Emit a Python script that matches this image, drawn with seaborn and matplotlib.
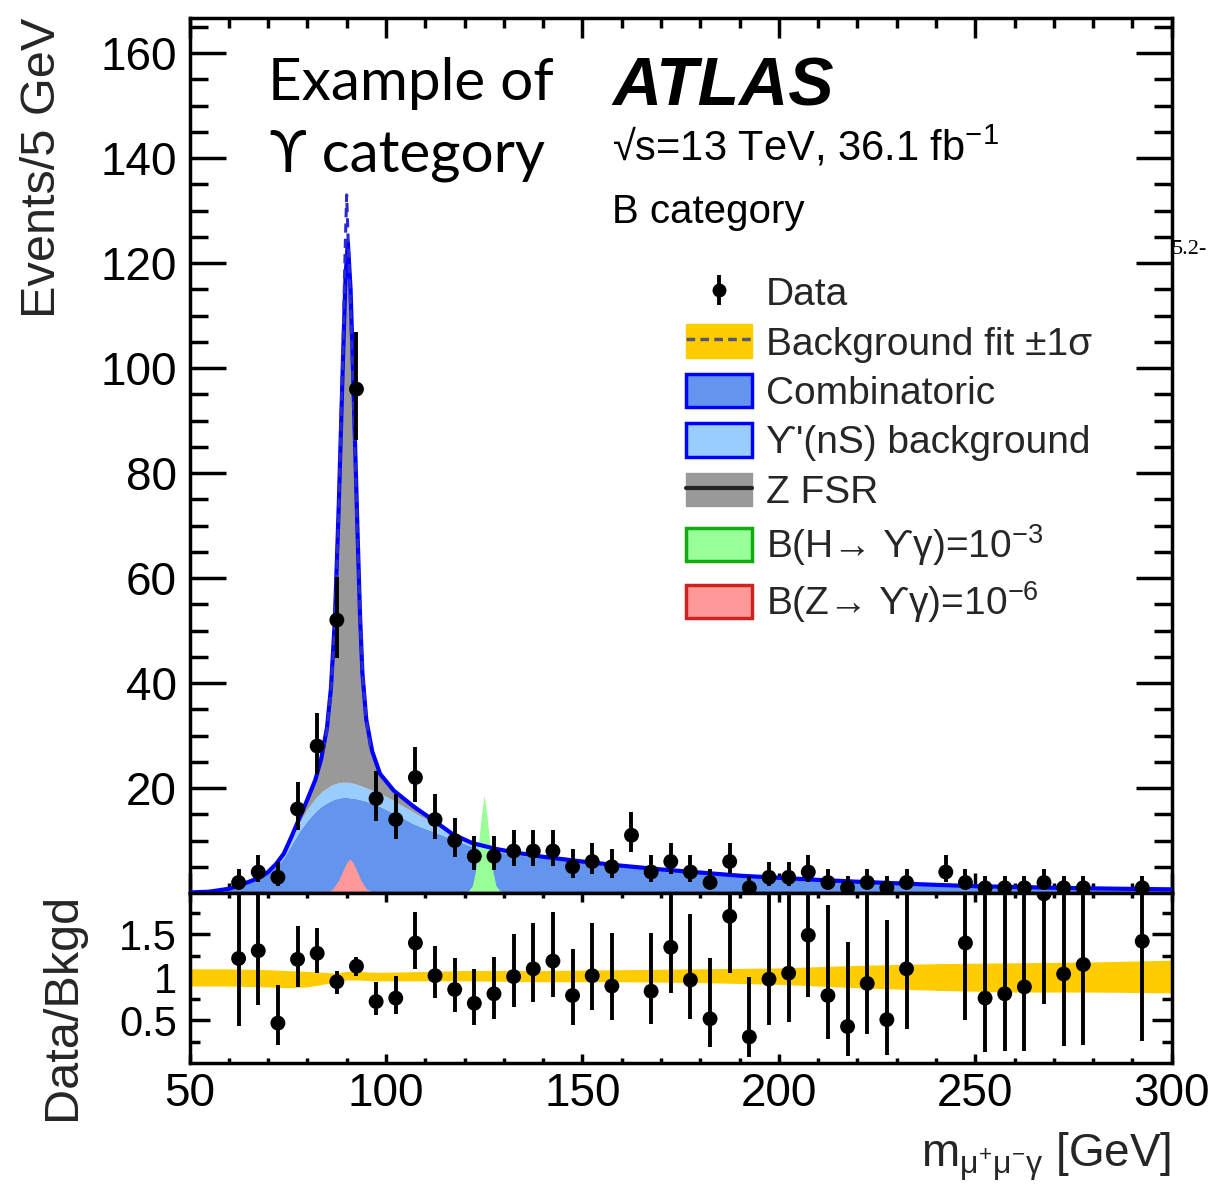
import numpy as np
import matplotlib
matplotlib.use("Agg")
import matplotlib.pyplot as plt
import seaborn as sns
import pandas as pd
from matplotlib.patches import Patch
from matplotlib.lines import Line2D
from matplotlib.ticker import MultipleLocator, FixedLocator

nan = float("nan")

# ---------------- data ----------------
bin_centers = [62.5, 67.5, 72.5, 77.5, 82.5, 87.5, 92.5, 97.5, 102.5, 107.5,
               112.5, 117.5, 122.5, 127.5, 132.5, 137.5, 142.5, 147.5, 152.5, 157.5,
               162.5, 167.5, 172.5, 177.5, 182.5, 187.5, 192.5, 197.5, 202.5, 207.5,
               212.5, 217.5, 222.5, 227.5, 232.5,
               242.5, 247.5, 252.5, 257.5, 262.5, 267.5, 272.5, 277.5, 292.5]
data_counts = [2, 4, 3, 16, 28, 52, 96, 18, 14, 22,
               14, 10, 7, 7, 8, 8, 8, 5, 6, 5,
               11, 4, 6, 4, 2, 6, 1, 3, 3, 4,
               2, 1, 2, 1, 2,
               4, 2, 1, 1, 1, 2, 1, 1, 1]
data_err_lo = [1.29, 1.91, 1.63, 3.96, 5.27, 7.18, 9.77, 4.20, 3.70, 4.65,
               3.70, 3.11, 2.58, 2.58, 2.77, 2.77, 2.77, 2.16, 2.38, 2.16,
               3.27, 1.91, 2.38, 1.91, 1.29, 2.38, 0.83, 1.63, 1.63, 1.91,
               1.29, 0.83, 1.29, 0.83, 1.29,
               1.91, 1.29, 0.83, 0.83, 0.83, 1.29, 0.83, 0.83, 0.83]
data_err_hi = [2.64, 3.16, 2.92, 5.08, 6.35, 8.25, 10.8, 5.32, 4.83, 5.76,
               4.83, 4.27, 3.77, 3.77, 3.95, 3.95, 3.95, 3.38, 3.58, 3.38,
               4.42, 3.16, 3.58, 3.16, 2.64, 3.58, 2.30, 2.92, 2.92, 3.16,
               2.64, 2.30, 2.64, 2.30, 2.64,
               3.16, 2.64, 2.30, 2.30, 2.30, 2.64, 2.30, 2.30, 2.30]

ratio_vals = [1.22, 1.31, 0.47, 1.21, 1.28, 0.95, 1.13, 0.72, 0.76, 1.40,
              1.02, 0.86, 0.70, 0.81, 1.01, 1.10, 1.19, 0.79, 1.02, 0.90,
              nan, 0.84, 1.35, 0.97, 0.52, 1.71, 0.31, 0.98, 1.05, 1.49,
              0.79, 0.43, 0.93, 0.51, 1.10,
              nan, 1.40, 0.76, 0.81, 0.89, 1.97, 1.04, 1.15, 1.42]
ratio_lo = [0.44, 0.68, 0.21, 0.89, 1.05, 0.81, 1.02, 0.56, 0.57, 1.10,
            0.76, 0.60, 0.45, 0.52, 0.66, 0.72, 0.77, 0.45, 0.62, 0.51,
            nan, 0.46, 0.82, 0.52, 0.19, 1.05, 0.08, 0.45, 0.48, 0.77,
            0.28, 0.09, 0.34, 0.10, 0.40,
            nan, 0.51, 0.13, 0.15, 0.15, 0.69, 0.20, 0.22, 0.26]
ratio_hi = [2.30, 2.40, 0.91, 1.60, 1.57, 1.08, 1.24, 0.95, 1.02, 1.76,
            1.36, 1.23, 1.10, 1.24, 1.50, 1.63, 1.76, 1.33, 1.63, 1.52,
            nan, 1.52, 2.30, 1.74, 1.22, 2.40, 1.00, 2.30, 2.30, 2.50,
            1.84, 1.41, 2.30, 1.67, 2.50,
            nan, 2.60, 2.40, 2.40, 2.50, 3.00, 2.80, 3.00, 3.00]

model_mass = [50, 55, 60, 63, 66, 68, 70, 72, 74, 76,
              78, 80, 82, 83.5, 85, 86, 87, 88, 89, 89.7,
              90.3, 91, 91.6, 92.2, 92.8, 93.4, 94, 95, 96.5, 98.5,
              102, 107, 112, 117, 122, 128, 133, 140, 150, 160,
              170, 180, 190, 200, 210, 220, 230, 240, 250, 260,
              270, 280, 290, 300]
model_total = [0.1, 0.25, 0.8, 1.5, 2.4, 3.0, 4.0, 5.5, 7.5, 10.8,
               14.3, 17.8, 21.5, 25.5, 31.5, 39.0, 52.0, 74.0, 100.0, 117.0,
               124.0, 115.0, 100.0, 84.0, 68.0, 53.0, 42.0, 33.0, 27.0, 22.7,
               19.5, 16.5, 13.9, 11.2, 9.5, 8.4, 7.7, 6.9, 6.0, 5.2,
               4.5, 3.9, 3.3, 2.9, 2.5, 2.15, 1.85, 1.55, 1.3, 1.15,
               1.0, 0.88, 0.78, 0.7]
model_upsilon_stack = [0.1, 0.25, 0.8, 1.5, 2.4, 3.0, 4.0, 5.4, 7.3, 10.4,
                       13.5, 16.0, 18.0, 19.2, 20.0, 20.5, 20.8, 21.0, 21.1, 21.1,
                       21.1, 21.0, 20.9, 20.8, 20.6, 20.5, 20.3, 20.0, 19.6, 19.0,
                       17.6, 15.4, 13.3, 11.0, 9.4, 8.3, 7.6, 6.85, 5.95, 5.15,
                       4.45, 3.85, 3.25, 2.85, 2.45, 2.1, 1.8, 1.5, 1.25, 1.1,
                       0.95, 0.84, 0.74, 0.66]
model_combinatoric = [0.1, 0.25, 0.8, 1.5, 2.3, 2.9, 3.8, 5.0, 6.7, 9.3,
                      11.8, 13.8, 15.5, 16.5, 17.2, 17.6, 17.9, 18.1, 18.2, 18.2,
                      18.2, 18.1, 18.1, 18.0, 17.9, 17.8, 17.7, 17.5, 17.1, 16.5,
                      15.2, 13.2, 11.7, 10.3, 8.8, 7.9, 7.3, 6.7, 5.85, 5.1,
                      4.4, 3.8, 3.2, 2.8, 2.4, 2.05, 1.75, 1.45, 1.2, 1.05,
                      0.9, 0.8, 0.7, 0.62]

fit_peak_mass = [84, 85, 86, 87, 88, 89, 89.6, 90.0, 90.4, 91, 91.6, 92.2, 92.8, 93.4, 94, 95, 96]
fit_peak_vals = [27, 31, 38.5, 51, 73, 102, 122, 133, 124, 111, 97, 82, 67, 53, 42, 33, 28]

sig_h_mass = [120, 121, 122, 122.75, 123.5, 124.25, 125, 125.75, 126.5, 127.25, 128, 129, 130]
sig_h_vals = [0.1, 0.4, 1.4, 4.0, 9.0, 14.5, 18.7, 14.5, 9.0, 4.0, 1.4, 0.4, 0.1]
sig_z_mass = [85, 86.5, 88, 89, 90, 90.8, 91.6, 92.6, 93.6, 95, 97]
sig_z_vals = [0.1, 0.8, 2.5, 4.2, 5.8, 6.5, 5.8, 4.2, 2.5, 0.8, 0.1]

band_mass = [50, 60, 70, 75, 80, 84, 87, 90, 93, 97, 100, 110, 120, 140, 160, 180, 200, 220, 240, 260, 280, 300]
band_hi = [1.10, 1.10, 1.09, 1.08, 1.07, 1.06, 1.05, 1.07, 1.07, 1.06, 1.06, 1.07, 1.08, 1.08, 1.09, 1.10, 1.11, 1.14, 1.16, 1.17, 1.18, 1.20]
band_lo = [0.90, 0.90, 0.89, 0.88, 0.89, 0.92, 0.95, 0.97, 0.97, 0.96, 0.96, 0.96, 0.96, 0.95, 0.95, 0.94, 0.92, 0.88, 0.85, 0.83, 0.83, 0.82]

x_ticks = [50, 100, 150, 200, 250, 300]
y_ticks_main = [20, 40, 60, 80, 100, 120, 140, 160]
y_ticks_ratio = [0.5, 1.0, 1.5]
legend_labels = ["Data", "Background fit ±1σ", "Combinatoric", "ϒ'(nS) background",
                 "Z FSR", "B(H→ ϒγ)=10$^{\\mathrm{-3}}$", "B(Z→ ϒγ)=10$^{\\mathrm{-6}}$"]

# ---------------- style ----------------
sns.set_theme(style="ticks")
plt.rcParams["font.family"] = ["Liberation Sans", "DejaVu Sans"]
plt.rcParams["mathtext.fontset"] = "custom"
plt.rcParams["mathtext.rm"] = "Liberation Sans"
plt.rcParams["mathtext.it"] = "Liberation Sans:italic"
plt.rcParams["mathtext.bf"] = "Liberation Sans:bold"
plt.rcParams["mathtext.sf"] = "Liberation Sans"
plt.rcParams["axes.linewidth"] = 2.5
plt.rcParams["axes.edgecolor"] = "black"

C_COMB = "#6495ee"
C_UPS = "#99ccff"
C_ZFSR = "#999999"
C_H = "#99ff99"
C_Z = "#ff9999"
C_LINE = "#0000ff"
C_BAND = "#ffcc00"

W, H = 1215, 1185
fig = plt.figure(figsize=(W / 100, H / 100), dpi=100)

def fx(x):
    return x / W

def fy(y):
    return 1 - y / H

left, right = 189.5, 1171.7
top_main, split, bottom = 18, 893, 1062.7
ax = fig.add_axes([fx(left), fy(split), (right - left) / W, (split - top_main) / H])
axr = fig.add_axes([fx(left), fy(bottom), (right - left) / W, (bottom - split) / H], sharex=ax)

# ---------------- main panel ----------------
ax.fill_between(model_mass, 0, model_combinatoric, color=C_COMB, lw=0, zorder=1)
ax.fill_between(model_mass, model_combinatoric, model_upsilon_stack, color=C_UPS, lw=0, zorder=1)
ax.fill_between(model_mass, model_upsilon_stack, model_total, color=C_ZFSR, lw=0, zorder=1)
ax.fill_between(sig_z_mass, 0, sig_z_vals, color=C_Z, lw=0, zorder=2)
ax.fill_between(sig_h_mass, 0, sig_h_vals, color=C_H, lw=0, zorder=2)
sns.lineplot(x=model_mass, y=model_total, ax=ax, color=C_LINE, lw=3.0, zorder=3, sort=False)
ax.plot(fit_peak_mass, fit_peak_vals, color="#2a2ad0", lw=2.2, ls=(0, (3, 2)), zorder=3)

ax.errorbar(bin_centers, data_counts, yerr=[data_err_lo, data_err_hi], fmt="none",
            ecolor="black", elinewidth=2.8, capsize=0, zorder=4)
sns.scatterplot(x=bin_centers, y=data_counts, ax=ax, color="black", s=115,
                edgecolor="none", zorder=5, legend=False)

ax.set_xlim(50, 300)
ax.set_ylim(0, 166.7)
ax.yaxis.set_major_locator(FixedLocator(y_ticks_main))
ax.yaxis.set_minor_locator(MultipleLocator(5))
ax.xaxis.set_major_locator(FixedLocator(x_ticks))
ax.xaxis.set_minor_locator(MultipleLocator(10))
ax.tick_params(axis="both", which="both", direction="in", top=True, right=True,
               width=2.5, colors="black")
ax.tick_params(axis="y", which="major", length=26, labelsize=33, pad=9)
ax.tick_params(axis="y", which="minor", length=13)
ax.tick_params(axis="x", which="major", length=14.5)
ax.tick_params(axis="x", which="minor", length=7.2)
ax.tick_params(axis="x", labelbottom=False)
for s in ax.spines.values():
    s.set_visible(True)
    s.set_linewidth(2.5)
ax.set_ylabel("Events/5 GeV", fontsize=35, loc="top")
ax.yaxis.set_label_coords(-0.127, 1.0)

# ---------------- ratio panel ----------------
axr.fill_between(band_mass, band_lo, band_hi, color=C_BAND, lw=0, zorder=1)
axr.errorbar(bin_centers, ratio_vals,
             yerr=[np.array(ratio_vals) - np.array(ratio_lo), np.array(ratio_hi) - np.array(ratio_vals)],
             fmt="none", ecolor="black", elinewidth=2.8, capsize=0, zorder=4)
sns.scatterplot(x=bin_centers, y=ratio_vals, ax=axr, color="black", s=115,
                edgecolor="none", zorder=5, legend=False)
axr.set_ylim(0.01, 1.98)
axr.yaxis.set_major_locator(FixedLocator(y_ticks_ratio))
axr.yaxis.set_minor_locator(FixedLocator([0.25, 0.75, 1.25, 1.75]))
axr.set_yticklabels(["0.5", "1", "1.5"])
axr.tick_params(axis="both", which="both", direction="in", top=True, right=True,
                width=2.5, colors="black")
axr.tick_params(axis="y", which="major", length=14.5, labelsize=30, pad=9)
axr.tick_params(axis="y", which="minor", length=7.2)
axr.tick_params(axis="x", which="major", length=6.5, labelsize=33, pad=7)
axr.tick_params(axis="x", which="minor", length=3.3)
for s in axr.spines.values():
    s.set_visible(True)
    s.set_linewidth(2.5)
axr.set_ylabel("Data/Bkgd", fontsize=35, loc="top")
axr.yaxis.set_label_coords(-0.106, 1.0)
axr.set_xlabel(r"m$_{\mathrm{\mu^{+}\mu^{-}\gamma}}$ [GeV]", fontsize=33, loc="right")
axr.xaxis.set_label_coords(1.0, -0.40)

# ---------------- legend ----------------
h_data = (Line2D([], [], color="black", marker="|", ms=22, mew=2.8, ls="none"),
          Line2D([], [], color="black", marker="o", ms=9, ls="none"))
h_fit = (Patch(facecolor=C_BAND, edgecolor=C_BAND),
         Line2D([], [], color="#555577", lw=2.5, ls=(0, (2.5, 1.5))))
h_comb = Patch(facecolor=C_COMB, edgecolor="#0000ff", lw=2.5)
h_ups = Patch(facecolor=C_UPS, edgecolor="#0000ff", lw=2.5)
h_zfsr = (Patch(facecolor=C_ZFSR, edgecolor=C_ZFSR), Line2D([], [], color="#222222", lw=3))
h_h = Patch(facecolor=C_H, edgecolor="#11aa11", lw=2.5)
h_z = Patch(facecolor=C_Z, edgecolor="#cc2222", lw=2.5)
leg = ax.legend([h_data, h_fit, h_comb, h_ups, h_zfsr, h_h, h_z], legend_labels,
                loc="upper left", bbox_to_anchor=(fx(686), fy(275)),
                bbox_transform=fig.transFigure, frameon=False, fontsize=28,
                handlelength=1.7, handleheight=0.95, handletextpad=0.35,
                labelspacing=0.29, borderpad=0, borderaxespad=0)

# ---------------- annotations ----------------
fig.text(fx(268), fy(100), "Example of", fontsize=42, family=["Lato", "DejaVu Sans"],
         va="baseline", ha="left", color="black")
fig.text(fx(270), fy(172), "ϒ category", fontsize=42, family=["Lato", "DejaVu Sans"],
         va="baseline", ha="left", color="black")
fig.text(fx(612), fy(105), "ATLAS", fontsize=49, fontweight="bold", fontstyle="italic",
         va="baseline", ha="left", color="black")
fig.text(fx(612), fy(160), "√s=13 TeV, 36.1 fb$^{\\mathrm{-1}}$", fontsize=30,
         va="baseline", ha="left", color="black")
fig.text(fx(612), fy(223), "B category", fontsize=29, va="baseline", ha="left", color="black")
fig.text(fx(1172), fy(254), "5.2-", fontsize=16, family=["Liberation Serif"],
         va="baseline", ha="left", color="black")

fig.savefig("out.png", dpi=100)
